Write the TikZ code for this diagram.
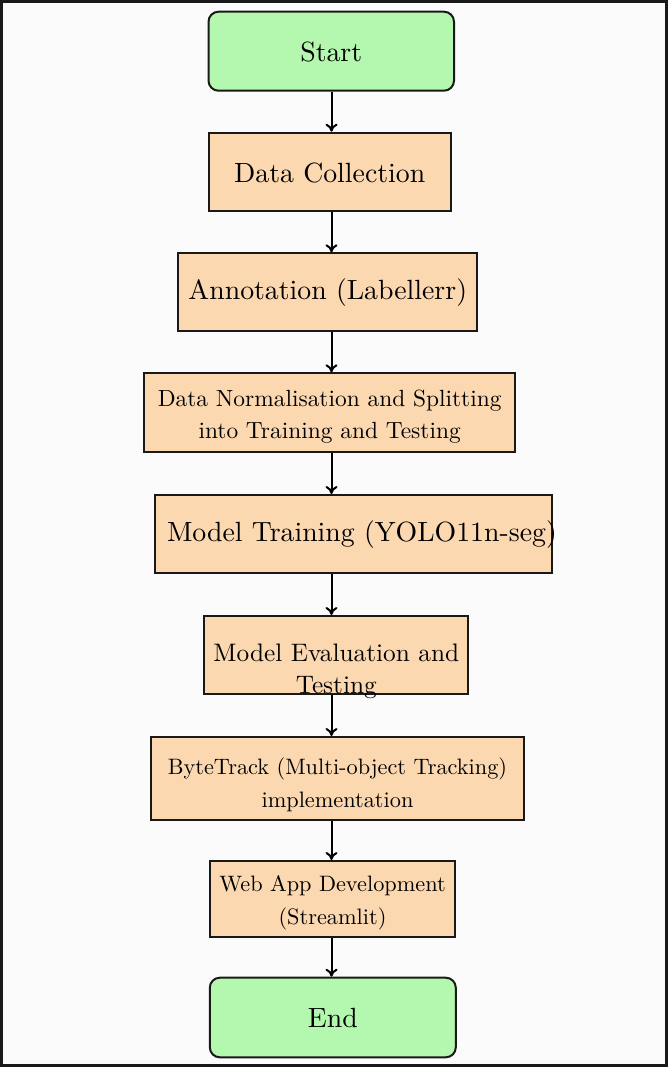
\documentclass[tikz,border=0pt]{standalone}
\usepackage{graphicx}
\usetikzlibrary{arrows.meta}
\definecolor{termgreen}{HTML}{B4F7AE}
\definecolor{peach}{HTML}{FCD8B1}
\definecolor{pagebg}{HTML}{FBFBFB}
\newcommand{\ntext}[3]{\scalebox{#1}{\fontsize{10}{#2}\selectfont\begin{tabular}[t]{@{}c@{}}#3\end{tabular}}}
\begin{document}
\begin{tikzpicture}[x=1pt,y=-1pt,
  box/.style={draw=black!90, line width=2pt, fill=peach, inner xsep=4pt, inner ysep=0pt},
  term/.style={box, fill=termgreen, rounded corners=10pt},
  arr/.style={-{To[length=8pt,width=12pt]}, line width=2pt, draw=black}]
\useasboundingbox (0,0) rectangle (668,1067);
\fill[pagebg] (0,0) rectangle (668,1067);
\draw[line width=3pt, black!90] (1.5,1.5) rectangle (666.5,1065.5);

\node[term, minimum width=245.5pt, minimum height=79pt, text height=21pt, text depth=0pt] (start) at (331.25,51.2) {\ntext{2.78}{12}{Start}};
\node[box, minimum width=242pt, minimum height=78pt, text height=21.2pt, text depth=0pt] (dc) at (329.7,171.7) {\ntext{2.78}{12}{Data Collection}};
\node[box, minimum width=299pt, minimum height=78pt, text height=13.4pt, text depth=0pt] (ann) at (327.8,292.3) {\ntext{2.78}{12}{Annotation (Labellerr)}};
\node[box, minimum width=370.7pt, minimum height=78.4pt, text height=0pt, text depth=11.6pt] (dn) at (329.65,412.5) {\ntext{2.34}{13.8}{Data Normalisation and Splitting\\into Training and Testing}};
\node[box, inner xsep=12pt, minimum width=396.7pt, minimum height=78.3pt, text height=15pt, text depth=0pt] (mt) at (353.35,534.15) {\makebox[372.7pt][l]{\ntext{2.78}{12}{Model Training (YOLO11n-seg)}}};
\node[box, minimum width=264pt, minimum height=78pt, text height=13.4pt, text depth=0pt] (me) at (336.3,655) {\ntext{2.53}{12.5}{Model Evaluation and\\Testing}};
\node[box, minimum width=373pt, minimum height=82.7pt, text height=0pt, text depth=8.6pt] (bt) at (337.5,778.35) {\ntext{2.23}{14.9}{ByteTrack (Multi-object Tracking)\\implementation}};
\node[box, minimum width=245pt, minimum height=76pt, text height=0pt, text depth=14.6pt] (wa) at (332.5,899) {\ntext{2.23}{14.5}{Web App Development\\(Streamlit)}};
\node[term, minimum width=246pt, minimum height=79.6pt, text height=19.6pt, text depth=0pt] (end) at (332.8,1017.5) {\ntext{2.78}{12}{End}};

\coordinate (ax) at (331.5,0);
\foreach \a/\b in {start/dc, dc/ann, ann/dn, dn/mt, mt/me, me/bt, bt/wa, wa/end}
  \draw[arr] (\a.south -| ax) -- (\b.north -| ax);
\end{tikzpicture}
\end{document}
